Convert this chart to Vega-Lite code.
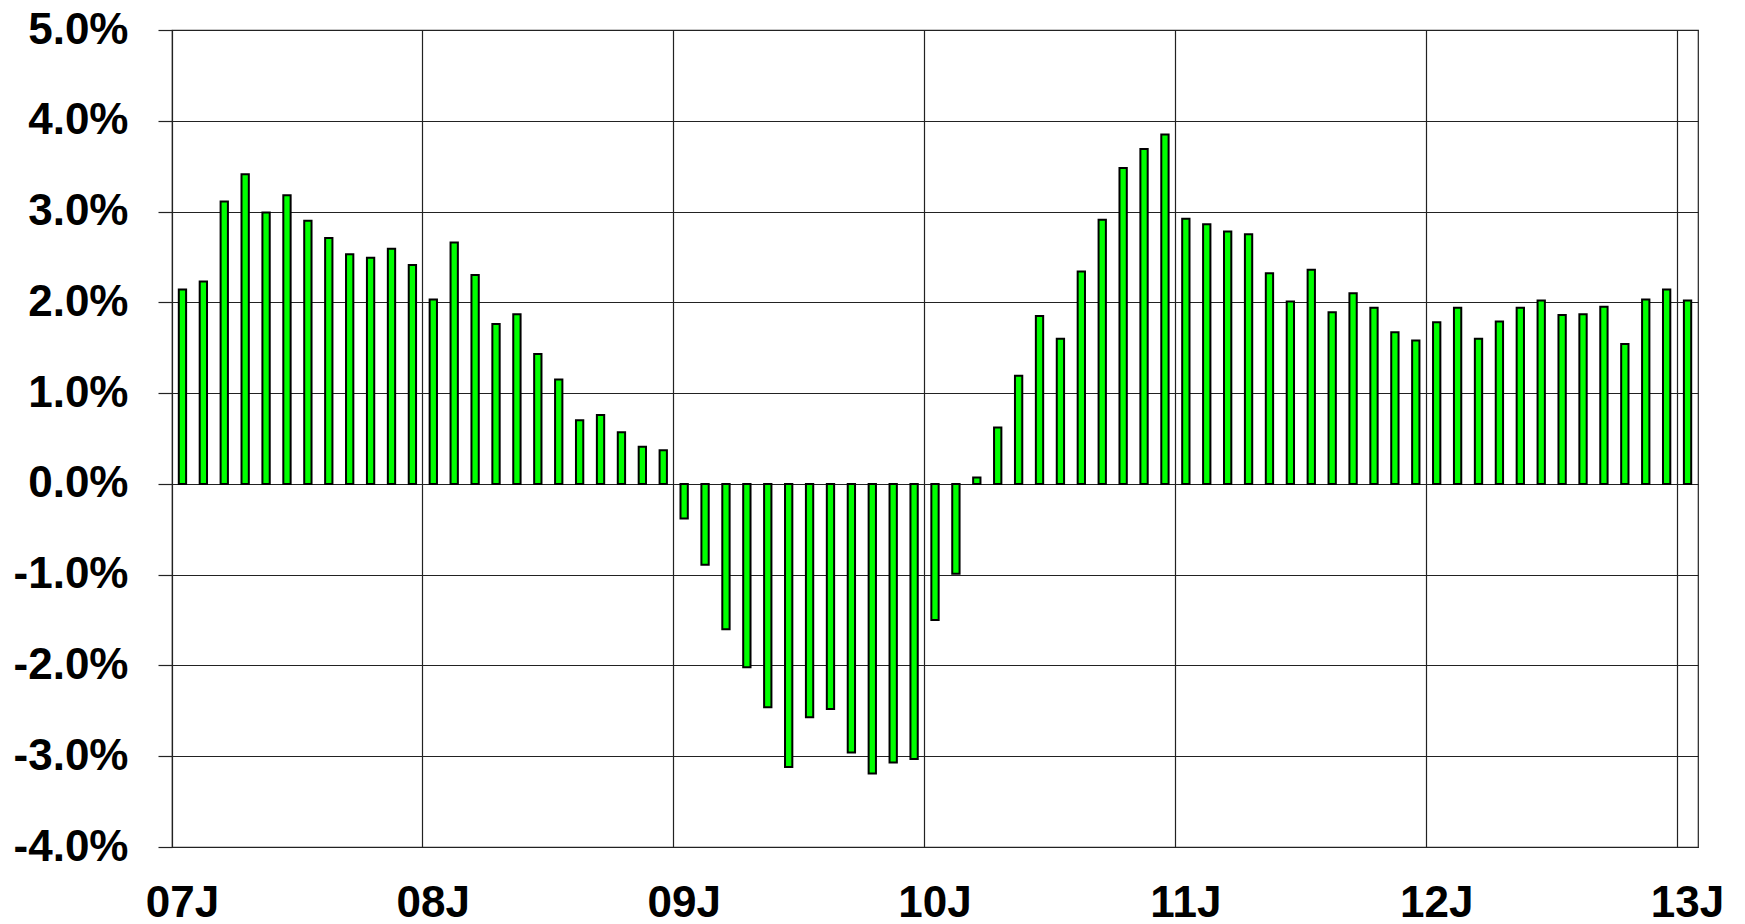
{
  "$schema": "https://vega.github.io/schema/vega-lite/v6.json",
  "autosize": {"type": "none"},
  "padding": {"left": 172, "top": 30, "right": 47, "bottom": 77},
  "width": 1526,
  "height": 817,
  "background": "white",
  "config": {
    "view": {"stroke": "#222", "strokeWidth": 1.2},
    "font": "Liberation Sans"
  },
  "data": {
    "values": [
      {"m": "2007-01", "v": 2.14}, {"m": "2007-02", "v": 2.23}, {"m": "2007-03", "v": 3.11}, {"m": "2007-04", "v": 3.41},
      {"m": "2007-05", "v": 2.99}, {"m": "2007-06", "v": 3.18}, {"m": "2007-07", "v": 2.90}, {"m": "2007-08", "v": 2.71},
      {"m": "2007-09", "v": 2.53}, {"m": "2007-10", "v": 2.49}, {"m": "2007-11", "v": 2.59}, {"m": "2007-12", "v": 2.41},
      {"m": "2008-01", "v": 2.03}, {"m": "2008-02", "v": 2.66}, {"m": "2008-03", "v": 2.30}, {"m": "2008-04", "v": 1.76},
      {"m": "2008-05", "v": 1.87}, {"m": "2008-06", "v": 1.43}, {"m": "2008-07", "v": 1.15}, {"m": "2008-08", "v": 0.70},
      {"m": "2008-09", "v": 0.76}, {"m": "2008-10", "v": 0.57}, {"m": "2008-11", "v": 0.41}, {"m": "2008-12", "v": 0.37},
      {"m": "2009-01", "v": -0.38}, {"m": "2009-02", "v": -0.89}, {"m": "2009-03", "v": -1.60}, {"m": "2009-04", "v": -2.02},
      {"m": "2009-05", "v": -2.46}, {"m": "2009-06", "v": -3.12}, {"m": "2009-07", "v": -2.57}, {"m": "2009-08", "v": -2.48},
      {"m": "2009-09", "v": -2.96}, {"m": "2009-10", "v": -3.19}, {"m": "2009-11", "v": -3.07}, {"m": "2009-12", "v": -3.03},
      {"m": "2010-01", "v": -1.50}, {"m": "2010-02", "v": -0.99}, {"m": "2010-03", "v": 0.07}, {"m": "2010-04", "v": 0.62},
      {"m": "2010-05", "v": 1.19}, {"m": "2010-06", "v": 1.85}, {"m": "2010-07", "v": 1.60}, {"m": "2010-08", "v": 2.34},
      {"m": "2010-09", "v": 2.91}, {"m": "2010-10", "v": 3.48}, {"m": "2010-11", "v": 3.69}, {"m": "2010-12", "v": 3.85},
      {"m": "2011-01", "v": 2.92}, {"m": "2011-02", "v": 2.86}, {"m": "2011-03", "v": 2.78}, {"m": "2011-04", "v": 2.75},
      {"m": "2011-05", "v": 2.32}, {"m": "2011-06", "v": 2.01}, {"m": "2011-07", "v": 2.36}, {"m": "2011-08", "v": 1.89},
      {"m": "2011-09", "v": 2.10}, {"m": "2011-10", "v": 1.94}, {"m": "2011-11", "v": 1.67}, {"m": "2011-12", "v": 1.58},
      {"m": "2012-01", "v": 1.78}, {"m": "2012-02", "v": 1.94}, {"m": "2012-03", "v": 1.60}, {"m": "2012-04", "v": 1.79},
      {"m": "2012-05", "v": 1.94}, {"m": "2012-06", "v": 2.02}, {"m": "2012-07", "v": 1.86}, {"m": "2012-08", "v": 1.87},
      {"m": "2012-09", "v": 1.95}, {"m": "2012-10", "v": 1.54}, {"m": "2012-11", "v": 2.03}, {"m": "2012-12", "v": 2.14},
      {"m": "2013-01", "v": 2.02}
    ]
  },
  "mark": {
    "type": "bar",
    "fill": "#00FF00",
    "stroke": "#000000",
    "strokeWidth": 2,
    "width": {"band": 0.35}
  },
  "encoding": {
    "x": {
      "field": "m",
      "type": "ordinal",
      "sort": "ascending",
      "scale": {"paddingInner": 0, "paddingOuter": 0},
      "axis": {
        "title": null,
        "values": ["2007-01", "2008-01", "2009-01", "2010-01", "2011-01", "2012-01", "2013-01"],
        "labelExpr": "substring(datum.value, 2, 4) + 'J'",
        "bandPosition": 0,
        "grid": true,
        "gridColor": "#222",
        "gridWidth": 1.2,
        "gridOpacity": 1,
        "ticks": false,
        "domain": false,
        "labelAngle": 0,
        "labelFont": "Liberation Sans",
        "labelFontWeight": "bold",
        "labelFontSize": 44,
        "labelColor": "#000",
        "labelPadding": 34,
        "labelFlush": false,
        "labelOverlap": false
      }
    },
    "y": {
      "field": "v",
      "type": "quantitative",
      "scale": {"domain": [-4, 5], "nice": false, "zero": false},
      "axis": {
        "title": null,
        "values": [-4, -3, -2, -1, 0, 1, 2, 3, 4, 5],
        "labelExpr": "(datum.value < 0 ? '-' : '') + format(abs(datum.value), '.1f') + '%'",
        "grid": true,
        "gridColor": "#222",
        "gridWidth": 1.2,
        "gridOpacity": 1,
        "ticks": true,
        "tickSize": 14,
        "tickColor": "#222",
        "tickWidth": 1.2,
        "domain": false,
        "labelFont": "Liberation Sans",
        "labelFontWeight": "bold",
        "labelFontSize": 44,
        "labelColor": "#000",
        "labelPadding": 30,
        "labelFlush": false,
        "labelOverlap": false
      }
    }
  }
}
